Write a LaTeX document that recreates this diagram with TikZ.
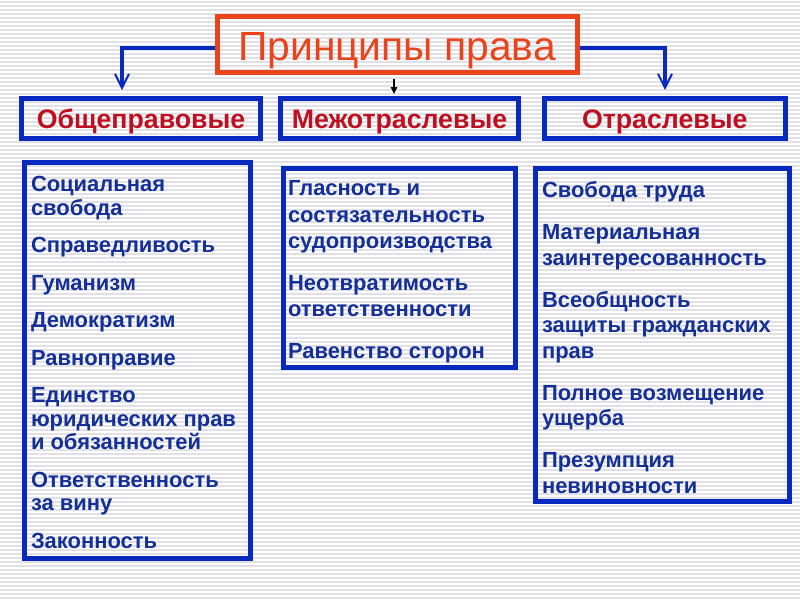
\documentclass[tikz,border=0pt]{standalone}
\usepackage{fontspec}
\setmainfont{Liberation Sans}
\usepackage{xcolor}
\usetikzlibrary{calc,positioning,arrows.meta}

\newlength\pxu
\setlength\pxu{0.025cm}

\definecolor{titlered}{RGB}{234,68,28}
\definecolor{headred}{RGB}{190,16,32}
\definecolor{frameblue}{RGB}{8,40,190}
\definecolor{textblue}{RGB}{20,48,150}
\definecolor{stripegray}{RGB}{224,224,230}

\tikzset{
    titlebox/.style={draw=titlered, line width=5\pxu, text=titlered, minimum width=360\pxu, minimum height=56\pxu, inner sep=0pt, text height=23.4pt, text depth=0pt, font=\fontsize{29}{32}\selectfont},
    headbox/.style={draw=frameblue, line width=5\pxu, text=headred, minimum height=40\pxu, inner sep=0pt, text height=13.7pt, text depth=0pt, font=\bfseries\fontsize{19}{22}\selectfont},
    listbox/.style={draw=frameblue, line width=5\pxu, text=textblue, inner sep=0pt, anchor=north west, font=\bfseries\fontsize{15.6}{18}\selectfont},
    branch/.style={draw=frameblue, line width=4\pxu, -{Straight Barb[length=3.5mm, width=3.5mm, line width=0.5mm]}},
    stem/.style={draw=black, line width=1.5\pxu, -{Triangle[length=1.75mm, width=1.6mm]}},
    stripe/.style={draw=stripegray, line width=1.1\pxu}
}

\begin{document}
\begin{tikzpicture}[x=0.025cm, y=-0.025cm]
        \fill[white] (0,0) rectangle (800,600);
        \useasboundingbox (0,0) rectangle (800,600);
        \foreach \y in {2,6,...,598}
            \draw[stripe] (0,\y) -- (800,\y);

        \node[titlebox] (title) at (397,44) {Принципы права};

        \node[headbox, minimum width=239\pxu] (hdl) at (141,118.5) {Общеправовые};
        \node[headbox, minimum width=238\pxu] (hdm) at (399.5,118.5) {Межотраслевые};
        \node[headbox, minimum width=240.5\pxu] (hdr) at (664.75,118.5) {Отраслевые};

        \node[listbox] (obsh) at (22,160) {%
            \begin{minipage}[t][396\pxu][t]{226\pxu}
                \raggedright
                \setlength\leftskip{6.5\pxu}
                \setlength\baselineskip{23.5\pxu}
                \setlength\parskip{14\pxu}
                \rule{0pt}{29\pxu}Социальная\\ свобода\par
                Справедливость\par
                Гуманизм\par
                Демократизм\par
                Равноправие\par
                Единство\\ юридических прав\\ и обязанностей\par
                Ответственность\\ за вину\par
                Законность\par
            \end{minipage}%
        };

        \node[listbox] (mezh) at (280.5,166) {%
            \begin{minipage}[t][199\pxu][t]{232\pxu}
                \raggedright
                \setlength\leftskip{5\pxu}
                \setlength\baselineskip{26.5\pxu}
                \setlength\parskip{15\pxu}
                \rule{0pt}{27\pxu}Гласность и\\ состязательность\\ судопроизводства\par
                Неотвратимость\\ ответственности\par
                Равенство сторон\par
            \end{minipage}%
        };

        \node[listbox] (otr) at (533,166) {%
            \begin{minipage}[t][333\pxu][t]{254\pxu}
                \raggedright
                \setlength\leftskip{6.5\pxu}
                \setlength\baselineskip{25.5\pxu}
                \setlength\parskip{16.5\pxu}
                \rule{0pt}{29\pxu}Свобода труда\par
                Материальная\\ заинтересованность\par
                Всеобщность\\ защиты гражданских\\ прав\par
                Полное возмещение\\ ущерба\par
                Презумпция\\ невиновности\par
            \end{minipage}%
        };

        \coordinate (tipl) at (122,90);
        \coordinate (tipr) at (665,90);
        \coordinate (midtop) at (394,79);
        \draw[branch] ($(title.west)+(0,4)$) -| (tipl);
        \draw[branch] ($(title.east)+(0,4)$) -| (tipr);
        \draw[stem, shorten >=2\pxu] (midtop) -- (midtop |- hdm.north);
\end{tikzpicture}
\end{document}
